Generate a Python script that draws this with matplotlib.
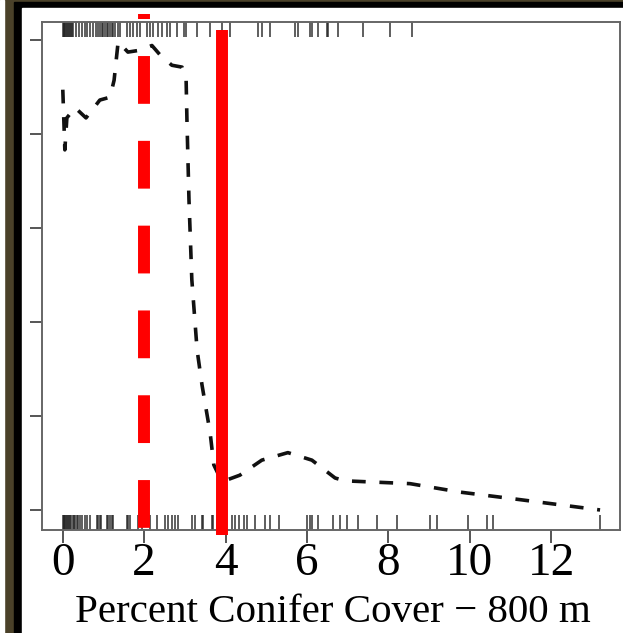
import matplotlib
matplotlib.use("Agg")
import matplotlib.pyplot as plt
import matplotlib.patches as patches
import matplotlib.transforms as mtransforms

# curva di dipendenza parziale
curve_x = [0.0, 0.05, 0.10, 0.30, 0.57, 0.91, 1.16, 1.26, 1.36, 1.60, 1.90, 2.19,
           2.39, 2.68, 2.93, 3.03, 3.05, 3.10, 3.17, 3.30, 3.42, 3.62, 3.71, 3.91,
           4.35, 4.89, 5.53, 6.12, 6.69, 6.93, 8.53, 9.76, 11.23, 13.2]
curve_y = [4.47, 3.83, 4.17, 4.28, 4.17, 4.36, 4.39, 4.57, 4.98, 4.87, 4.89, 4.94,
           4.84, 4.73, 4.71, 4.57, 4.15, 3.30, 2.45, 1.70, 1.33, 0.82, 0.48, 0.30,
           0.37, 0.53, 0.61, 0.53, 0.34, 0.31, 0.28, 0.19, 0.11, 0.0]

# rug superiore (presenze) e inferiore (assenze)
rug_top = [0.0, 0.02, 0.04, 0.06, 0.08, 0.10, 0.12, 0.15, 0.18, 0.20, 0.22, 0.25,
           0.32, 0.40, 0.48, 0.55, 0.60, 0.68, 0.75, 0.82, 0.86, 0.92, 0.96, 1.00,
           1.04, 1.08, 1.12, 1.16, 1.20, 1.24, 1.28, 1.35, 1.41, 1.57, 1.65, 1.73,
           1.82, 1.90, 2.06, 2.14, 2.22, 2.35, 2.43, 2.55, 2.64, 2.80, 2.98, 3.02,
           3.29, 3.62, 3.90, 4.11, 4.80, 4.89, 5.09, 5.71, 5.79, 6.07, 6.12, 6.28,
           6.48, 6.52, 6.77, 7.38, 8.04, 8.57]
rug_bottom = [0.0, 0.02, 0.04, 0.06, 0.08, 0.10, 0.12, 0.15, 0.18, 0.21, 0.24, 0.28,
              0.31, 0.34, 0.38, 0.42, 0.46, 0.54, 0.59, 0.67, 0.83, 0.87, 0.91, 0.95,
              1.08, 1.12, 1.16, 1.20, 1.24, 1.57, 1.61, 1.65, 1.85, 1.95, 2.14, 2.31,
              2.51, 2.59, 2.68, 2.76, 2.84, 3.17, 3.25, 3.41, 3.45, 3.66, 3.70, 3.80,
              4.16, 4.24, 4.32, 4.44, 4.52, 4.72, 4.97, 5.09, 5.30, 5.99, 6.07, 6.12,
              6.28, 6.65, 6.81, 6.98, 7.26, 7.71, 8.20, 9.02, 9.19, 9.96, 10.42,
              10.58, 13.2]

x_ticks = [0, 2, 4, 6, 8, 10, 12]
y_ticks = [0, 1, 2, 3, 4, 5]
soglia_tratteggiata = 2.0
soglia_continua = 3.9
xlabel = "Percent Conifer Cover \u2212 800 m"

W, H = 623, 633
fig = plt.figure(figsize=(W / 100, H / 100), dpi=100)
fig.patch.set_facecolor("#4a4129")

# cornice: nero e interno bianco (coordinate in pixel)
def px_rect(x0, y0, x1, y1, color):
    fig.patches.append(patches.Rectangle((x0 / W, 1 - y1 / H), (x1 - x0) / W, (y1 - y0) / H,
                                         transform=fig.transFigure, color=color, zorder=-10))

px_rect(0, 0, 4, H, "white")
px_rect(14, 2, W, H, "black")
px_rect(22, 8, W, H, "white")

ax = fig.add_axes([42 / W, (H - 530) / H, (620 - 42) / W, (530 - 22) / H])
ax.set_zorder(1)
ax.set_facecolor("white")
ax.set_xlim(-0.511, 13.69)
ax.set_ylim(-0.213, 5.19)

for s in ax.spines.values():
    s.set_color("#666666")
    s.set_linewidth(1.4)

ax.set_xticks(x_ticks)
ax.set_xticklabels([str(t) for t in x_ticks], family="Liberation Serif", fontsize=34)
ax.set_yticks(y_ticks)
ax.set_yticklabels([])
ax.tick_params(axis="both", direction="out", length=9, width=1.4, color="#555555", pad=0)

# rug
trans = mtransforms.blended_transform_factory(ax.transData, ax.transAxes)
ax.vlines(rug_top, 0.97, 1.0, transform=trans, color="#222222", lw=1.2, alpha=0.85)
ax.vlines(rug_bottom, 0.0, 0.03, transform=trans, color="#222222", lw=1.2, alpha=0.85)

# curva
ax.plot(curve_x, curve_y, color="#111111", lw=2.6, ls=(0, (3.8, 3.8)))

# linee soglia rosse
ax.plot([soglia_tratteggiata, soglia_tratteggiata], [5.27, -0.213], color="red", lw=8.6,
        ls=(3.58, (4.0, 3.1)), solid_capstyle="butt", dash_capstyle="butt", clip_on=False, zorder=5)
ax.plot([soglia_continua, soglia_continua], [5.11, -0.27], color="red", lw=8.6,
        solid_capstyle="butt", clip_on=False, zorder=5)

fig.text((62.8 + 40.7 * 6.5 + 6) / W, 1 - 612 / H, xlabel, family="Liberation Serif",
         fontsize=29.5, ha="center", va="center")

fig.savefig("out.png", dpi=100, facecolor=fig.get_facecolor())
